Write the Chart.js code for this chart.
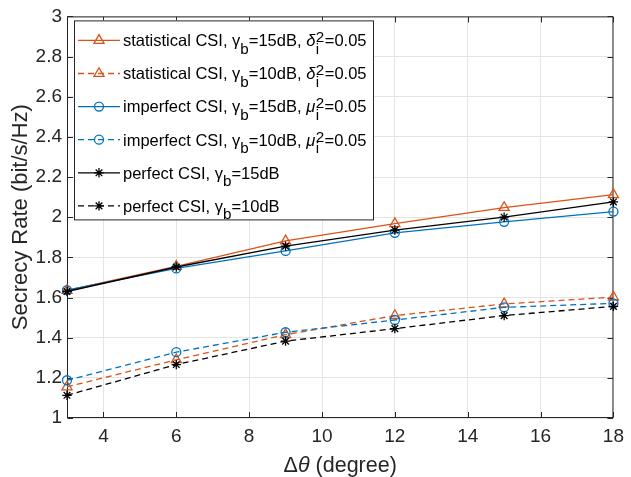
<!DOCTYPE html>
<html>
<head>
<meta charset="utf-8">
<script src="https://cdn.jsdelivr.net/npm/chart.js@4.4.1/dist/chart.umd.min.js"></script>
<style>
  html, body { margin: 0; padding: 0; background: #ffffff; }
  #wrap { width: 631px; height: 477px; }
</style>
</head>
<body>
<div id="wrap"><canvas id="c" width="631" height="477"></canvas></div>
<script>
// Angular separation (degree)
const thetaDeg = [3, 6, 9, 12, 15, 18];

// Secrecy rate (bit/s/Hz) per scheme
const statCsi15    = [1.635, 1.755, 1.882, 1.968, 2.048, 2.112];
const statCsi10    = [1.155, 1.290, 1.415, 1.510, 1.568, 1.602];
const imperfCsi15  = [1.637, 1.745, 1.832, 1.922, 1.977, 2.028];
const imperfCsi10  = [1.188, 1.328, 1.427, 1.488, 1.551, 1.571];
const perfCsi15    = [1.630, 1.752, 1.856, 1.936, 2.000, 2.076];
const perfCsi10    = [1.113, 1.266, 1.383, 1.445, 1.510, 1.556];

const seriesValues = [statCsi15, statCsi10, imperfCsi15, imperfCsi10, perfCsi15, perfCsi10];

// Legend entries, written with TeX-like sub/superscripts
const seriesLabels = [
  'statistical CSI, \\gamma_b=15dB, \\delta_i^2=0.05',
  'statistical CSI, \\gamma_b=10dB, \\delta_i^2=0.05',
  'imperfect CSI, \\gamma_b=15dB, \\mu_i^2=0.05',
  'imperfect CSI, \\gamma_b=10dB, \\mu_i^2=0.05',
  'perfect CSI, \\gamma_b=15dB',
  'perfect CSI, \\gamma_b=10dB'
];

const xTickValues = [4, 6, 8, 10, 12, 14, 16, 18];
const yTickValues = [1, 1.2, 1.4, 1.6, 1.8, 2, 2.2, 2.4, 2.6, 2.8, 3];

// Styling
const FONT = '"Liberation Sans", Arial, Helvetica, sans-serif';
const AXIS_COLOR = '#262626';
const GRID_COLOR = '#e4e4e4';
const seriesColors  = ['#D95319', '#D95319', '#0072BD', '#0072BD', '#000000', '#000000'];
const seriesDashes  = [[], [6, 4], [], [6, 4], [], [6, 4]];
const seriesMarkers = ['triangle', 'triangle', 'circle', 'circle', 'star', 'star'];
const markerRadius  = { triangle: 5.8, circle: 4.5, star: 4.7 };
const LINE_WIDTH = 1.3;

const GREEK = { gamma: ['γ', 'normal'], delta: ['δ', 'italic'], mu: ['μ', 'italic'], theta: ['θ', 'italic'] };

// Split a TeX-like label into drawable pieces
function parseRich(s) {
  const out = [];
  let buf = '';
  const flush = () => { if (buf) { out.push({ kind: 'txt', t: buf, style: 'normal' }); buf = ''; } };
  for (let i = 0; i < s.length; i++) {
    const ch = s[i];
    if (ch === '\\') {
      let j = i + 1, name = '';
      while (j < s.length && /[a-zA-Z]/.test(s[j])) name += s[j++];
      flush();
      const g = GREEK[name] || [name, 'normal'];
      out.push({ kind: 'txt', t: g[0], style: g[1] });
      i = j - 1;
    } else if (ch === '_') {
      flush();
      const sub = s[i + 1];
      if (s[i + 2] === '^') {
        out.push({ kind: 'stack', sub: sub, sup: s[i + 3] });
        i += 3;
      } else {
        out.push({ kind: 'sub', t: sub });
        i += 1;
      }
    } else if (ch === '^') {
      flush();
      out.push({ kind: 'sup', t: s[i + 1] });
      i += 1;
    } else {
      buf += ch;
    }
  }
  flush();
  return out;
}

function drawRich(ctx, pieces, x, base, size) {
  const small = size * 0.92;
  ctx.textAlign = 'left';
  ctx.textBaseline = 'alphabetic';
  for (const p of pieces) {
    if (p.kind === 'txt') {
      ctx.font = p.style + ' ' + size + 'px ' + FONT;
      ctx.fillText(p.t, x, base);
      x += ctx.measureText(p.t).width;
    } else if (p.kind === 'sub') {
      ctx.font = 'normal ' + small + 'px ' + FONT;
      ctx.fillText(p.t, x, base + 7.5);
      x += ctx.measureText(p.t).width;
    } else if (p.kind === 'sup') {
      ctx.font = 'normal ' + small + 'px ' + FONT;
      ctx.fillText(p.t, x, base - 4);
      x += ctx.measureText(p.t).width;
    } else if (p.kind === 'stack') {
      ctx.font = 'normal ' + small + 'px ' + FONT;
      ctx.fillText(p.sup, x + 0.5, base - 4);
      ctx.fillText(p.sub, x + 0.5, base + 7.5);
      x += Math.max(ctx.measureText(p.sup).width, ctx.measureText(p.sub).width) + 1;
    }
  }
  return x;
}

function drawMarker(ctx, style, radius, color, x, y) {
  ctx.save();
  ctx.strokeStyle = color;
  ctx.fillStyle = 'rgba(0,0,0,0)';
  ctx.lineWidth = LINE_WIDTH;
  ctx.setLineDash([]);
  Chart.helpers.drawPoint(ctx, { pointStyle: style, radius: radius, rotation: 0, borderWidth: LINE_WIDTH }, x, y);
  ctx.restore();
}

// Axes box with inward tick marks on all four sides
const framePlugin = {
  id: 'frame',
  beforeDatasetsDraw(chart) {
    const { ctx, chartArea: a, scales } = chart;
    const L = a.left + 0.5, R = a.right - 0.5, T = a.top + 0.5, B = a.bottom - 0.5;
    const tick = 5.5;
    ctx.save();
    ctx.strokeStyle = AXIS_COLOR;
    ctx.lineWidth = 1;
    ctx.setLineDash([]);
    ctx.strokeRect(L, T, R - L, B - T);
    ctx.beginPath();
    for (const v of xTickValues) {
      const px = Math.round(scales.x.getPixelForValue(v)) + 0.5;
      ctx.moveTo(px, B); ctx.lineTo(px, B - tick);
      ctx.moveTo(px, T); ctx.lineTo(px, T + tick);
    }
    for (const v of yTickValues) {
      const py = Math.round(scales.y.getPixelForValue(v)) + 0.5;
      ctx.moveTo(L, py); ctx.lineTo(L + tick, py);
      ctx.moveTo(R, py); ctx.lineTo(R - tick, py);
    }
    ctx.stroke();
    ctx.restore();
  }
};

// Legend box with line samples, markers and sub/superscripted text, plus the x-axis title
const legendPlugin = {
  id: 'texLegend',
  afterDraw(chart) {
    const { ctx, chartArea: a } = chart;
    const box = { x: a.left + 7, y: a.top + 4, w: 299, h: 199 };
    ctx.save();
    ctx.fillStyle = '#ffffff';
    ctx.fillRect(box.x, box.y, box.w, box.h);
    ctx.strokeStyle = AXIS_COLOR;
    ctx.lineWidth = 1;
    ctx.setLineDash([]);
    ctx.strokeRect(box.x + 0.5, box.y + 0.5, box.w, box.h);

    const rowGap = 33.1;
    seriesLabels.forEach((label, i) => {
      const y = box.y + 20 + i * rowGap;
      const x0 = box.x + 4, x1 = box.x + 46, xm = (x0 + x1) / 2;
      ctx.strokeStyle = seriesColors[i];
      ctx.lineWidth = LINE_WIDTH;
      ctx.setLineDash(seriesDashes[i]);
      ctx.beginPath();
      ctx.moveTo(x0, y); ctx.lineTo(x1, y);
      ctx.stroke();
      ctx.setLineDash([]);
      drawMarker(ctx, seriesMarkers[i], markerRadius[seriesMarkers[i]], seriesColors[i], xm, y);
      ctx.fillStyle = '#000000';
      drawRich(ctx, parseRich(label), box.x + 49, y + 5.8, 16.5);
    });

    // x-axis title: Δθ (degree)
    const titlePieces = [
      { kind: 'txt', t: 'Δ', style: 'normal' },
      { kind: 'txt', t: 'θ', style: 'italic' },
      { kind: 'txt', t: ' (degree)', style: 'normal' }
    ];
    const size = 21.5;
    let w = 0;
    for (const p of titlePieces) { ctx.font = p.style + ' ' + size + 'px ' + FONT; w += ctx.measureText(p.t).width; }
    ctx.fillStyle = AXIS_COLOR;
    drawRich(ctx, titlePieces, (a.left + a.right) / 2 - w / 2, 472, size);
    ctx.restore();
  }
};

const datasets = seriesValues.map((vals, i) => ({
  label: seriesLabels[i],
  data: thetaDeg.map((x, j) => ({ x: x, y: vals[j] })),
  borderColor: seriesColors[i],
  borderWidth: LINE_WIDTH,
  borderDash: seriesDashes[i],
  pointStyle: seriesMarkers[i],
  pointRadius: markerRadius[seriesMarkers[i]],
  pointBorderColor: seriesColors[i],
  pointBackgroundColor: 'rgba(0,0,0,0)',
  pointBorderWidth: LINE_WIDTH,
  fill: false,
  tension: 0,
  clip: false,
  order: seriesValues.length - i
}));

new Chart(document.getElementById('c'), {
  type: 'line',
  data: { datasets: datasets },
  options: {
    responsive: false,
    animation: false,
    devicePixelRatio: 1,
    layout: { padding: { left: 0, right: 13, top: 14, bottom: 0 } },
    plugins: { legend: { display: false }, tooltip: { enabled: false } },
    scales: {
      x: {
        type: 'linear',
        min: 3,
        max: 18,
        afterBuildTicks: s => { s.ticks = xTickValues.map(v => ({ value: v })); },
        afterFit: s => { s.height = 59; },
        grid: { color: GRID_COLOR, drawTicks: false, lineWidth: 1 },
        border: { display: false },
        ticks: {
          font: { family: FONT, size: 19 },
          color: AXIS_COLOR,
          padding: 7,
          maxRotation: 0,
          autoSkip: false
        }
      },
      y: {
        type: 'linear',
        min: 1,
        max: 3,
        afterBuildTicks: s => { s.ticks = yTickValues.map(v => ({ value: v })); },
        afterFit: s => { s.width = 67; },
        grid: { color: GRID_COLOR, drawTicks: false, lineWidth: 1 },
        border: { display: false },
        ticks: {
          font: { family: FONT, size: 19 },
          color: AXIS_COLOR,
          padding: 5,
          callback: v => String(Number(Number(v).toFixed(1)))
        },
        title: {
          display: true,
          text: 'Secrecy Rate (bit/s/Hz)',
          font: { family: FONT, size: 22 },
          color: AXIS_COLOR,
          padding: { top: 8, bottom: 0 }
        }
      }
    }
  },
  plugins: [framePlugin, legendPlugin]
});
</script>
</body>
</html>
